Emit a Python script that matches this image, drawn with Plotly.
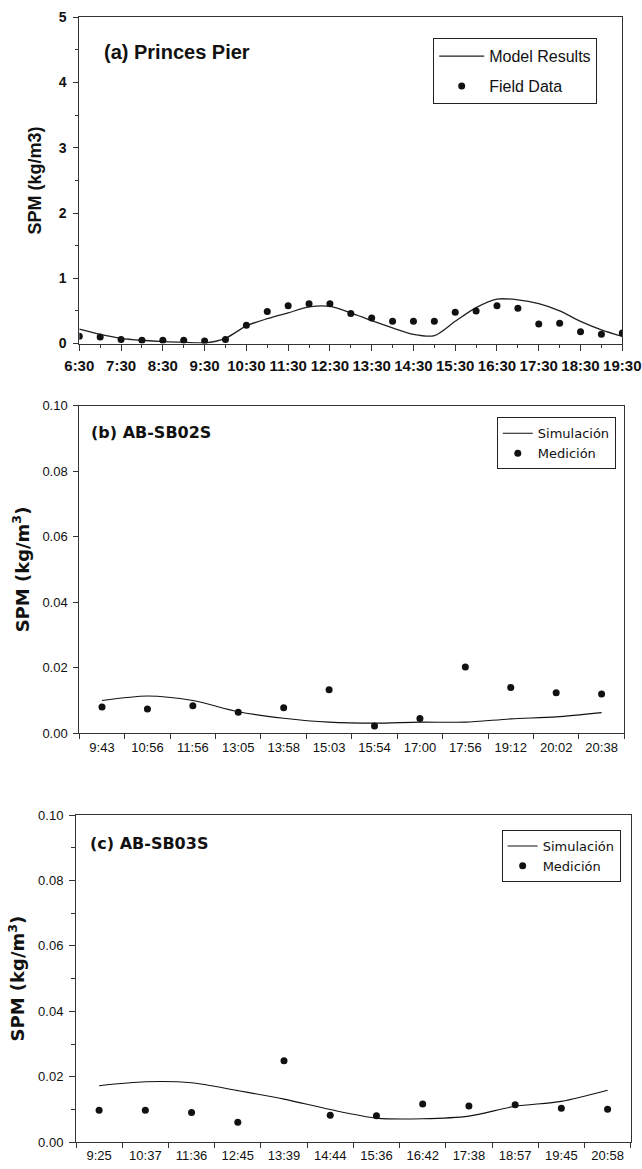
import plotly.graph_objects as go

W, H = 642, 1169

# ---------------- Panel (a) Princes Pier ----------------
times_a = ["6:30", "7:00", "7:30", "8:00", "8:30", "9:00", "9:30", "10:00", "10:30",
           "11:00", "11:30", "12:00", "12:30", "13:00", "13:30", "14:00", "14:30",
           "15:00", "15:30", "16:00", "16:30", "17:00", "17:30", "18:00", "18:30",
           "19:00", "19:30"]
field_a = [0.11, 0.10, 0.06, 0.05, 0.05, 0.05, 0.04, 0.06, 0.28, 0.49, 0.58, 0.61,
           0.61, 0.46, 0.39, 0.34, 0.34, 0.34, 0.48, 0.50, 0.58, 0.54, 0.30, 0.31,
           0.18, 0.14, 0.16]
model_a = [0.22, 0.14, 0.08, 0.05, 0.03, 0.02, 0.01, 0.08, 0.27, 0.38, 0.47, 0.56,
           0.57, 0.47, 0.35, 0.24, 0.14, 0.12, 0.34, 0.55, 0.68, 0.67, 0.61, 0.50,
           0.34, 0.21, 0.11]
ticks_a = ["6:30", "7:30", "8:30", "9:30", "10:30", "11:30", "12:30", "13:30",
           "14:30", "15:30", "16:30", "17:30", "18:30", "19:30"]

# ---------------- Panel (b) AB-SB02S ----------------
cats_b = ["9:43", "10:56", "11:56", "13:05", "13:58", "15:03", "15:54", "17:00",
          "17:56", "19:12", "20:02", "20:38"]
meas_b = [0.0080, 0.0074, 0.0084, 0.0064, 0.0078, 0.0133, 0.0022, 0.0045, 0.0202,
          0.0140, 0.0124, 0.0120]
sim_b = [0.0100, 0.0114, 0.0100, 0.0066, 0.0046, 0.0034, 0.0031, 0.0034, 0.0034,
         0.0044, 0.0050, 0.0063]

# ---------------- Panel (c) AB-SB03S ----------------
cats_c = ["9:25", "10:37", "11:36", "12:45", "13:39", "14:44", "15:36", "16:42",
          "17:38", "18:57", "19:45", "20:58"]
meas_c = [0.0098, 0.0098, 0.0091, 0.0061, 0.0249, 0.0083, 0.0081, 0.0117, 0.0111,
          0.0115, 0.0104, 0.0101]
sim_c = [0.0173, 0.0185, 0.0182, 0.0158, 0.0132, 0.0100, 0.0074, 0.0072, 0.0080,
         0.0110, 0.0125, 0.0159]


def hours(t):
    h, m = t.split(":")
    return int(h) + int(m) / 60.0


xa = [hours(t) for t in times_a]
tickvals_a = [hours(t) for t in ticks_a]

ARIAL = "Liberation Sans"
VERD = "DejaVu Sans"

def px_x(p):
    return p / W

def px_y(p):
    return 1 - p / H

fig = go.Figure()

# panel a
fig.add_trace(go.Scatter(x=xa, y=model_a, mode="lines", name="Model Results",
                         line=dict(color="#222", width=1.3, shape="spline", smoothing=0.8),
                         xaxis="x", yaxis="y", legend="legend", legendgroup="a1"))
fig.add_trace(go.Scatter(x=xa, y=field_a, mode="markers", name="Field Data",
                         marker=dict(color="#111", size=7),
                         xaxis="x", yaxis="y", legend="legend", legendgroup="a2"))
# panel b
fig.add_trace(go.Scatter(x=cats_b, y=sim_b, mode="lines", name="Simulación",
                         line=dict(color="#111", width=1.1, shape="spline", smoothing=0.8),
                         xaxis="x2", yaxis="y2", legend="legend2", legendgroup="b1"))
fig.add_trace(go.Scatter(x=cats_b, y=meas_b, mode="markers", name="Medición",
                         marker=dict(color="#111", size=7),
                         xaxis="x2", yaxis="y2", legend="legend2", legendgroup="b2"))
# panel c
fig.add_trace(go.Scatter(x=cats_c, y=sim_c, mode="lines", name="Simulación",
                         line=dict(color="#111", width=1.1, shape="spline", smoothing=0.8),
                         xaxis="x3", yaxis="y3", legend="legend3", legendgroup="c1"))
fig.add_trace(go.Scatter(x=cats_c, y=meas_c, mode="markers", name="Medición",
                         marker=dict(color="#111", size=7),
                         xaxis="x3", yaxis="y3", legend="legend3", legendgroup="c2"))

axis_common = dict(showgrid=False, zeroline=False, showline=True, linecolor="#333",
                   linewidth=1, mirror=True, ticks="outside", tickcolor="#333",
                   automargin=False)

# panel (a) axes
fig.update_layout(
    xaxis=dict(domain=[px_x(79.3), px_x(622.3)], anchor="y", range=[6.5, 19.5],
               tickmode="array", tickvals=tickvals_a, ticktext=ticks_a,
               ticklen=6, tickwidth=1, tickangle=0, ticklabelstandoff=2,
               ticklabeloverflow="allow",
               minor=dict(tickmode="linear", tick0=6.5, dtick=0.5, ticks="outside",
                          ticklen=3, tickcolor="#333"),
               tickfont=dict(family=ARIAL, size=15, color="#111", weight="bold"),
               **axis_common),
    yaxis=dict(domain=[px_y(343.5), px_y(17.3)], anchor="x", range=[0, 5],
               tickmode="linear", tick0=0, dtick=1, ticklen=5, tickwidth=1,
               ticklabelstandoff=4,
               minor=dict(tickmode="linear", tick0=0, dtick=0.5, ticks="outside",
                          ticklen=3, tickcolor="#333"),
               tickfont=dict(family=ARIAL, size=14, color="#111", weight="bold"),
               title=dict(text="SPM (kg/m3)", standoff=12,
                          font=dict(family=ARIAL, size=18, color="#111", weight="bold")),
               **axis_common),
)

tick_small = dict(family=ARIAL, size=13, color="#111")
ytitle_b = dict(text="SPM (kg/m<sup>3</sup>)", standoff=8,
                font=dict(family=VERD, size=18, color="#111", weight="bold"))

fig.update_layout(
    xaxis2=dict(domain=[px_x(79.3), px_x(624.3)], anchor="y2", type="category",
                range=[-0.5, 11.5], tickson="boundaries", ticklen=5, tickwidth=1,
                tickangle=0, ticklabelstandoff=2, tickfont=tick_small, **axis_common),
    yaxis2=dict(domain=[px_y(733.3), px_y(405.7)], anchor="x2", range=[0, 0.1],
                tickmode="linear", tick0=0, dtick=0.02, tickformat=".2f",
                ticklen=5, tickwidth=1, ticklabelstandoff=3, tickfont=tick_small,
                title=ytitle_b, **axis_common),
    xaxis3=dict(domain=[px_x(76), px_x(630.7)], anchor="y3", type="category",
                range=[-0.5, 11.5], tickson="boundaries", ticklen=5, tickwidth=1,
                tickangle=0, ticklabelstandoff=1, tickfont=tick_small, **axis_common),
    yaxis3=dict(domain=[px_y(1142.3), px_y(815)], anchor="x3", range=[0, 0.1],
                tickmode="linear", tick0=0, dtick=0.02, tickformat=".2f",
                ticklen=6, tickwidth=1, ticklabelstandoff=3, tickfont=tick_small,
                title=ytitle_b,
                minor=dict(tickmode="linear", tick0=0, dtick=0.01, ticks="outside",
                           ticklen=4, tickcolor="#333"),
                **axis_common),
)

legend_common = dict(bgcolor="white", bordercolor="#222", borderwidth=1,
                     xanchor="center", yanchor="top", traceorder="grouped")
fig.update_layout(
    legend=dict(x=px_x((431.7 + 598.7) / 2), y=px_y(38.3), tracegroupgap=6,
                itemwidth=45,
                font=dict(family=ARIAL, size=16, color="#111"), **legend_common),
    legend2=dict(x=px_x((498.3 + 614.3) / 2), y=px_y(417.3), tracegroupgap=0,
                 itemwidth=30,
                 font=dict(family=VERD, size=13, color="#111"), **legend_common),
    legend3=dict(x=px_x((502.7 + 619.6) / 2), y=px_y(830), tracegroupgap=0,
                 itemwidth=30,
                 font=dict(family=VERD, size=13, color="#111"), **legend_common),
)

annots = [
    dict(text="(a) Princes Pier", x=px_x(102), y=px_y(51.7), font=dict(family=ARIAL, size=20, color="#111", weight="bold")),
    dict(text="(b) AB-SB02S", x=px_x(89), y=px_y(432.3), font=dict(family=VERD, size=16, color="#111", weight="bold")),
    dict(text="(c) AB-SB03S", x=px_x(88), y=px_y(843.3), font=dict(family=VERD, size=16, color="#111", weight="bold")),
]
for a in annots:
    fig.add_annotation(xref="paper", yref="paper", xanchor="left", yanchor="middle",
                       showarrow=False, **a)

fig.update_layout(width=W, height=H, margin=dict(l=0, r=0, t=0, b=0),
                  paper_bgcolor="white", plot_bgcolor="white", showlegend=True)

# remove the default 8px page margin so the figure fills the window exactly
fig.write_html("out.html",
               config={"displayModeBar": False},
               post_script="document.body.style.margin='0';document.body.style.overflow='hidden';")
